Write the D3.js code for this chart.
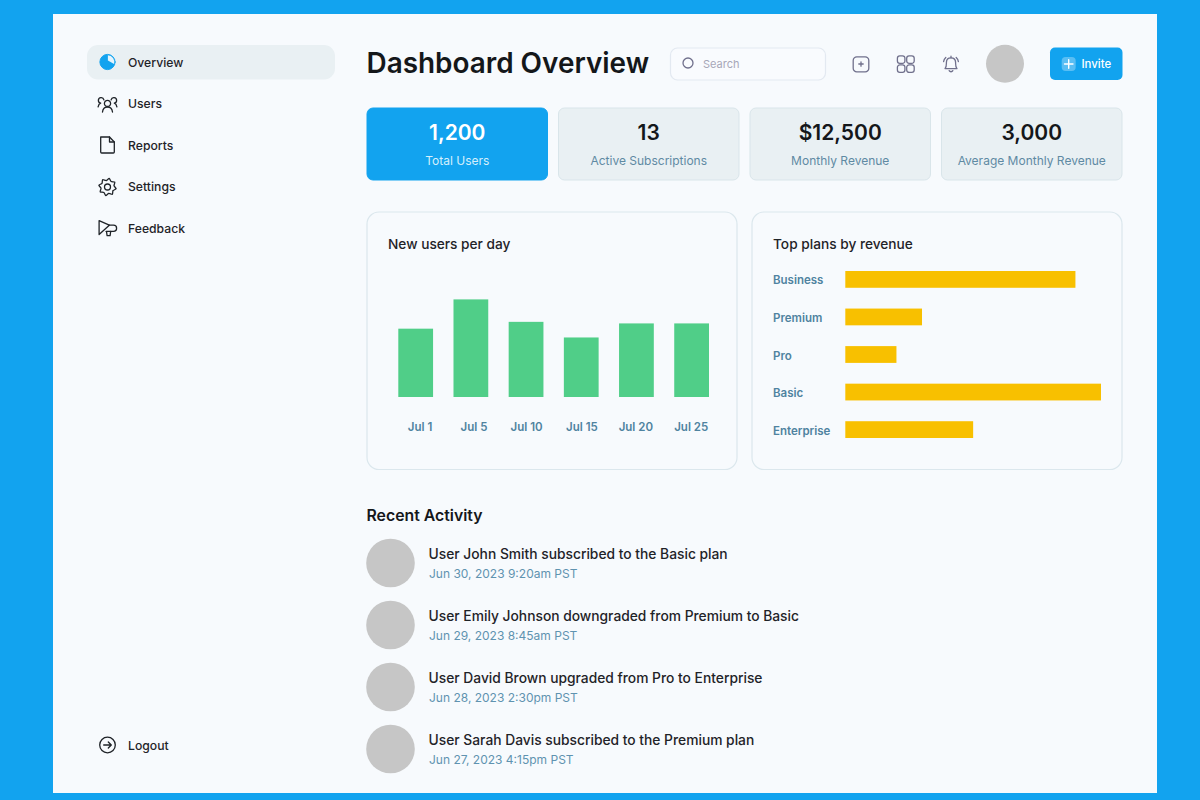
<!DOCTYPE html>
<html>
<head>
<meta charset="utf-8">
<title>Dashboard Overview</title>
<script src="https://cdn.jsdelivr.net/npm/d3@7"></script>
<style>
  html, body { margin: 0; padding: 0; background: #12a3ef; overflow: hidden; }
  svg { display: block; }
  text { font-family: Inter, "Noto Sans", sans-serif; }
  .icon { fill: none; stroke: #1f2328; stroke-width: 1.3; stroke-linecap: round; stroke-linejoin: round; }
  .icon-grey { fill: none; stroke: #70708c; stroke-width: 1.3; stroke-linecap: round; stroke-linejoin: round; }
  .domain { display: none; }
</style>
</head>
<body>
<svg id="chart" width="1200" height="800"></svg>
<script>
// sidebar
const navItems = ['Overview', 'Users', 'Reports', 'Settings', 'Feedback'];

// stat cards
const statValues = ['1,200', '13', '$12,500', '3,000'];
const statLabels = ['Total Users', 'Active Subscriptions', 'Monthly Revenue', 'Average Monthly Revenue'];

// new users per day
const days = ['Jul 1', 'Jul 5', 'Jul 10', 'Jul 15', 'Jul 20', 'Jul 25'];
const newUsers = [35, 50, 38.5, 30.5, 37.7, 37.7];

// top plans
const plans = ['Business', 'Premium', 'Pro', 'Basic', 'Enterprise'];
const planRevenue = [90, 30, 20, 100, 50];

// recent activity
const activityText = [
  'User John Smith subscribed to the Basic plan',
  'User Emily Johnson downgraded from Premium to Basic',
  'User David Brown upgraded from Pro to Enterprise',
  'User Sarah Davis subscribed to the Premium plan'
];
const activityDates = [
  'Jun 30, 2023 9:20am PST',
  'Jun 29, 2023 8:45am PST',
  'Jun 28, 2023 2:30pm PST',
  'Jun 27, 2023 4:15pm PST'
];

const blue = '#12a3ef', ink = '#1f2328', slate = '#4f83a0', card = '#e9f0f3', line = '#dbe7ed', panel = '#f7fafd';

const svg = d3.select('#chart');

// page + panel
svg.append('rect').attr('width', 1200).attr('height', 800).attr('fill', blue);
svg.append('rect').attr('x', 53).attr('y', 14).attr('width', 1104).attr('height', 779).attr('fill', panel);

// --- sidebar ---
svg.append('rect').attr('x', 87).attr('y', 45).attr('width', 248).attr('height', 34.5).attr('rx', 11).attr('fill', card);

const navY = d3.scalePoint().domain(navItems).range([62, 228]);

svg.append('g').selectAll('text').data(navItems).enter().append('text')
  .attr('x', 128)
  .attr('y', d => navY(d) + 4.8)
  .attr('font-size', 12.2)
  .attr('font-weight', 500)
  .attr('fill', ink)
  .text(d => d);

svg.append('text').attr('x', 128).attr('y', 749.6).attr('font-size', 12.2).attr('font-weight', 500).attr('fill', ink).text('Logout');

// icons, drawn around their own centres
const icon = (x, y, cls) => svg.append('g').attr('class', cls || 'icon').attr('transform', `translate(${x},${y})`);

// overview
const pie = icon(107.5, 62);
pie.append('circle').attr('r', 7.6).attr('fill', blue).attr('stroke', blue).attr('stroke-width', 1);
pie.append('path').attr('d', 'M0.4,-6.7 A6.8,6.8 0 0 1 6.6,1.9 L0.4,-1.6 Z').attr('fill', '#e3f4fd').attr('stroke', 'none');

// users
const users = icon(107.5, 104);
users.append('circle').attr('cx', 0).attr('cy', -0.6).attr('r', 3.1);
users.append('path').attr('d', 'M-5,8 C-4.6,4 -2.4,3 0,3 C2.4,3 4.6,4 5,8');
users.append('path').attr('d', 'M-3.6,-4.2 A2.8,2.8 0 1 0 -6.8,-0.8 C-8.2,-0.4 -9,0.8 -9.4,2.8');
users.append('path').attr('d', 'M3.6,-4.2 A2.8,2.8 0 1 1 6.8,-0.8 C8.2,-0.4 9,0.8 9.4,2.8');

// reports
const doc = icon(107.5, 145);
doc.append('path').attr('d', 'M-6.8,-8 H2 L6.8,-3 V7 A1,1 0 0 1 5.8,8 H-5.8 A1,1 0 0 1 -6.8,7 Z');
doc.append('path').attr('d', 'M2,-8 V-3 H6.8');

// settings: gear outline from a list of teeth
const gearPts = d3.range(0, 16).map(i => {
  const a = (i / 16) * 2 * Math.PI + Math.PI / 16;
  const r = i % 2 === 0 ? 8.8 : 6.6;
  return [r * Math.cos(a), r * Math.sin(a)];
});
const gear = icon(107.5, 187);
gear.append('path').attr('d', d3.line().curve(d3.curveCardinalClosed.tension(0.4))(gearPts));
gear.append('circle').attr('r', 3);

// feedback
const horn = icon(107.5, 228);
horn.append('path').attr('d', 'M-8.4,-7.4 L1.8,-2.8 L-8.4,6.6 Z');
horn.append('path').attr('d', 'M1.8,-2.8 H6 A3,3 0 0 1 6,3.4 L-1.4,3.4');
horn.append('path').attr('d', 'M-1,3.6 L-0.4,7.6 H2.6 L3.2,3.4');

// logout
const logout = icon(107.5, 745);
logout.append('circle').attr('r', 7.8);
logout.append('path').attr('d', 'M-3.8,0 H3.6 M0.8,-3 L3.8,0 L0.8,3');

// --- header ---
svg.append('text').attr('x', 366.5).attr('y', 72.8).attr('font-size', 27.9).attr('font-weight', 600).attr('fill', '#14171a').text('Dashboard Overview');

svg.append('rect').attr('x', 670.5).attr('y', 48).attr('width', 155).attr('height', 32).attr('rx', 7)
  .attr('fill', '#f9fbfe').attr('stroke', '#e3e9f1').attr('stroke-width', 1.2);
icon(688, 63, 'icon-grey').append('circle').attr('r', 5);
svg.append('text').attr('x', 703).attr('y', 67.5).attr('font-size', 11).attr('fill', '#a7a7b8').text('Search');

const addIcon = icon(861, 64, 'icon-grey');
addIcon.append('rect').attr('x', -7.8).attr('y', -7.2).attr('width', 15.6).attr('height', 15).attr('rx', 3.6);
addIcon.append('path').attr('d', 'M-2.2,0 H2.2 M0,-2.2 V2.2');

const gridIcon = icon(905.8, 64, 'icon-grey');
gridIcon.selectAll('rect').data([[-8.4, -8.2], [0.9, -8.2], [-8.4, 0.9], [0.9, 0.9]]).enter().append('rect')
  .attr('x', d => d[0]).attr('y', d => d[1]).attr('width', 7.5).attr('height', 7.5).attr('rx', 2.4);

const bell = icon(951, 64, 'icon-grey');
bell.append('path').attr('d', 'M-6,4.6 C-4.4,3 -4.6,1 -4.6,-1.6 C-4.6,-4.6 -2.6,-6.2 0,-6.2 C2.6,-6.2 4.6,-4.6 4.6,-1.6 C4.6,1 4.4,3 6,4.6 Z');
bell.append('path').attr('d', 'M-1.8,6.6 A2,2 0 0 0 1.8,6.6 M0,-7.8 V-6.2 M-7.4,-2.4 C-7.2,-4.2 -6.4,-5.6 -5.2,-6.6 M7.4,-2.4 C7.2,-4.2 6.4,-5.6 5.2,-6.6');

svg.append('circle').attr('cx', 1005).attr('cy', 63.8).attr('r', 19).attr('fill', '#c6c6c6');

svg.append('rect').attr('x', 1050).attr('y', 47.5).attr('width', 72.5).attr('height', 32.5).attr('rx', 5).attr('fill', blue);
svg.append('rect').attr('x', 1061.7).attr('y', 57).attr('width', 14).attr('height', 14).attr('rx', 4).attr('fill', '#fff').attr('opacity', 0.3);
svg.append('path').attr('d', 'M1064.5,64 H1073 M1068.7,59.8 V68.2').attr('stroke', '#fff').attr('stroke-width', 1.4).attr('stroke-linecap', 'round');
svg.append('text').attr('x', 1081.5).attr('y', 68).attr('font-size', 11.4).attr('font-weight', 500).attr('fill', '#fff').text('Invite');

// --- stat cards ---
const cardX = d3.scaleBand().domain(statLabels).range([367, 1122]).paddingInner(0.0574);

const cards = svg.append('g').selectAll('g').data(statLabels).enter().append('g')
  .attr('transform', d => `translate(${cardX(d)},108)`);

cards.append('rect')
  .attr('width', cardX.bandwidth())
  .attr('height', 72)
  .attr('rx', 6)
  .attr('fill', (d, i) => i === 0 ? blue : card)
  .attr('stroke', (d, i) => i === 0 ? blue : '#d9e5ea');

cards.append('text')
  .attr('x', cardX.bandwidth() / 2)
  .attr('y', 31.5)
  .attr('text-anchor', 'middle')
  .attr('font-size', 21)
  .attr('font-weight', 600)
  .attr('fill', (d, i) => i === 0 ? '#fff' : '#14171a')
  .text((d, i) => statValues[i]);

cards.append('text')
  .attr('x', cardX.bandwidth() / 2)
  .attr('y', 57)
  .attr('text-anchor', 'middle')
  .attr('font-size', 12)
  .attr('fill', (d, i) => i === 0 ? '#d5effc' : '#5f8aa3')
  .text(d => d);

// --- chart panels ---
[367, 752].forEach(px0 => {
  svg.append('rect').attr('x', px0).attr('y', 212).attr('width', 370).attr('height', 257.5).attr('rx', 12)
    .attr('fill', panel).attr('stroke', line).attr('stroke-width', 1.2);
});

svg.append('text').attr('x', 388).attr('y', 249).attr('font-size', 13.7).attr('font-weight', 500).attr('fill', ink).text('New users per day');
svg.append('text').attr('x', 773).attr('y', 249).attr('font-size', 13.7).attr('font-weight', 500).attr('fill', ink).text('Top plans by revenue');

// new users per day
const x = d3.scaleBand().domain(days).range([398.3, 709]).paddingInner(0.37);
const y = d3.scaleLinear().domain([0, 50]).range([397, 299.4]);

svg.append('g').selectAll('rect').data(days).enter().append('rect')
  .attr('x', d => x(d))
  .attr('y', (d, i) => y(newUsers[i]))
  .attr('width', x.bandwidth())
  .attr('height', (d, i) => y(0) - y(newUsers[i]))
  .attr('fill', '#50ce88');

const xAxis = svg.append('g')
  .attr('transform', 'translate(0,397)')
  .call(d3.axisBottom(x).tickSize(0).tickPadding(0));

// labels hang off the right edge of each bar
xAxis.selectAll('text')
  .attr('x', x.bandwidth() / 2 - 0.8)
  .attr('y', 34)
  .attr('dy', 0)
  .attr('text-anchor', 'end')
  .attr('font-family', 'Inter')
  .attr('font-size', 11.5)
  .attr('font-weight', 600)
  .attr('fill', slate);

// top plans
const px = d3.scaleLinear().domain([0, 100]).range([845.3, 1101]);
const py = d3.scaleBand().domain(plans).range([271, 438]).paddingInner(0.553);

svg.append('g').selectAll('rect').data(plans).enter().append('rect')
  .attr('x', px(0))
  .attr('y', d => py(d))
  .attr('width', (d, i) => px(planRevenue[i]) - px(0))
  .attr('height', py.bandwidth())
  .attr('fill', '#f8c000');

const yAxis = svg.append('g')
  .attr('transform', 'translate(773,1)')
  .call(d3.axisLeft(py).tickSize(0).tickPadding(0));

yAxis.selectAll('text')
  .attr('x', 0)
  .attr('dy', '0.35em')
  .attr('text-anchor', 'start')
  .attr('font-family', 'Inter')
  .attr('font-size', 11.5)
  .attr('font-weight', 600)
  .attr('fill', slate);

// --- recent activity ---
svg.append('text').attr('x', 366.5).attr('y', 520.5).attr('font-size', 15.8).attr('font-weight', 600).attr('fill', '#14171a').text('Recent Activity');

const rowY = d3.scalePoint().domain(activityText).range([563, 749]);

const rows = svg.append('g').selectAll('g').data(activityText).enter().append('g')
  .attr('transform', d => `translate(0,${rowY(d)})`);

rows.append('circle').attr('cx', 390.5).attr('r', 24.3).attr('fill', '#c6c6c6');

rows.append('text')
  .attr('x', 428.6)
  .attr('y', -4)
  .attr('font-size', 13.8)
  .attr('font-weight', 500)
  .attr('fill', ink)
  .text(d => d);

rows.append('text')
  .attr('x', 429)
  .attr('y', 15)
  .attr('font-size', 12)
  .attr('fill', '#5f93b0')
  .text((d, i) => activityDates[i]);
</script>
</body>
</html>
